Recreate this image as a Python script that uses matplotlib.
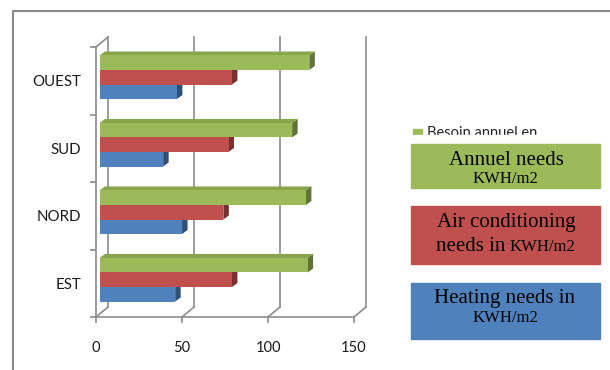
import matplotlib.pyplot as plt
from matplotlib.patches import Polygon, Rectangle
from matplotlib.lines import Line2D
from matplotlib.transforms import offset_copy
import numpy as np

# orientations and yearly needs (kWh/m2)
zones = ['EST', 'NORD', 'SUD', 'OUEST']
heating = [44, 48, 37, 45]
cooling = [77, 72, 75, 77]
annual = [121, 120, 112, 122]

x_ticks = [0, 50, 100, 150]

green = '#9BBB59'
red = '#C0504D'
blue = '#4F81BD'
grid_col = '#8C8C8C'


def shade(c, f):
    r, g, b = plt.matplotlib.colors.to_rgb(c)
    return (r * f, g * f, b * f)


W, H = 610, 370
fig = plt.figure(figsize=(W / 100, H / 100), dpi=100)
ax = fig.add_axes([96 / W, 53 / H, 258 / W, 270 / H])
ax.set_xlim(0, 150)
ax.set_ylim(-0.5, 3.5)
ax.patch.set_visible(False)

# pixel -> data factors for the pseudo 3D depth
px_x = 150 / 258
px_y = 4 / 270

font_ticks = ['Lato', 'DejaVu Sans']

# back wall: gridlines shifted back in depth
back = offset_copy(ax.transData, fig=fig, x=12, y=10, units='dots')
for xv in x_ticks:
    ax.plot([xv, xv], [-0.5, 3.5], color=grid_col, lw=1.2, transform=back,
            clip_on=False, zorder=1)
    ax.plot([xv, xv + 12 * px_x], [-0.5, -0.5 + 10 * px_y], color=grid_col,
            lw=1.2, clip_on=False, zorder=1)
ax.plot([0, 12 * px_x], [3.5, 3.5 + 10 * px_y], color=grid_col, lw=1.2,
        clip_on=False, zorder=1)

# bars with top and side faces
y = np.arange(len(zones))
h = 0.215
fx, fy = 3.5, 3.5   # front face offset (px)
dx, dy = 5.5, 4.0   # bar depth (px)
bar_tr = offset_copy(ax.transData, fig=fig, x=fx, y=fy, units='dots')
series = [(heating, blue, -h), (cooling, red, 0.0), (annual, green, h)]
for vals, col, off in series:
    for yi, v in zip(y, vals):
        yc = yi + off
        y0, y1 = yc - h / 2, yc + h / 2
        top = Polygon([(0, y1), (v, y1), (v + dx * px_x, y1 + dy * px_y),
                       (dx * px_x, y1 + dy * px_y)], closed=True,
                      facecolor=shade(col, 0.88), edgecolor='none',
                      transform=bar_tr, clip_on=False, zorder=3)
        side = Polygon([(v, y0), (v, y1), (v + dx * px_x, y1 + dy * px_y),
                        (v + dx * px_x, y0 + dy * px_y)], closed=True,
                       facecolor=shade(col, 0.62), edgecolor='none',
                       transform=bar_tr, clip_on=False, zorder=3)
        ax.add_patch(top)
        ax.add_patch(side)
    bars = ax.barh(y + off, vals, height=h, color=col, zorder=4)
    for p in bars:
        p.set_transform(bar_tr)
        p.set_clip_on(False)

# axes and ticks
for s in ['top', 'right']:
    ax.spines[s].set_visible(False)
for s in ['left', 'bottom']:
    ax.spines[s].set_color(grid_col)
    ax.spines[s].set_linewidth(1.2)
ax.set_xticks(x_ticks)
ax.set_xticklabels([str(t) for t in x_ticks], family=font_ticks, fontsize=10.5,
                   color='#1a1a1a')
ax.tick_params(axis='x', length=4, width=1.2, color=grid_col, pad=13)
ax.set_yticks(np.arange(-0.5, 4.0, 1.0))
ax.set_yticklabels([])
ax.set_yticks(y, minor=True)
ax.set_yticklabels(zones, minor=True, family=font_ticks, fontsize=10.8,
                   color='#1a1a1a')
ax.tick_params(axis='y', which='major', length=4, width=1.2, color=grid_col)
ax.tick_params(axis='y', which='minor', length=0, pad=10.5)


def fx_(px):
    return px / W


def fy_(py):
    return 1 - py / H


# outer chart frame
fig.add_artist(Line2D([fx_(13), fx_(13), fx_(612)], [fy_(372), fy_(10.5), fy_(10.5)],
                      color='#8A8A8A', lw=1.5))

# original legend entry, partly hidden
fig.add_artist(Rectangle((fx_(413), fy_(135)), 9 / W, 6 / H, color=green))
fig.text(fx_(427), fy_(137), 'Besoin annuel en', family=font_ticks,
         fontsize=10.5, color='#222222', va='baseline')
fig.add_artist(Rectangle((fx_(400), fy_(143)), 210 / W, 8 / H, color='white',
                         zorder=5))

# captions boxes
boxes = [(144, 188, green), (206, 264, red), (283, 339, blue)]
for top_px, bot_px, col in boxes:
    fig.add_artist(Rectangle((fx_(411), fy_(bot_px)), 189 / W,
                             (bot_px - top_px) / H, color=col, zorder=6))

serif = ['Liberation Serif', 'DejaVu Serif']
big, small = 15, 12
fig.text(fx_(506), fy_(165), 'Annuel needs', family=serif, fontsize=big,
         ha='center', va='baseline', zorder=7)
fig.text(fx_(505), fy_(183), 'KWH/m2', family=serif, fontsize=small,
         ha='center', va='baseline', zorder=7)
fig.text(fx_(506), fy_(227), 'Air conditioning', family=serif, fontsize=big,
         ha='center', va='baseline', zorder=7)
fig.text(fx_(436), fy_(251), 'needs in', family=serif, fontsize=big,
         ha='left', va='baseline', zorder=7)
fig.text(fx_(575), fy_(251), 'KWH/m2', family=serif, fontsize=small,
         ha='right', va='baseline', zorder=7)
fig.text(fx_(505), fy_(303), 'Heating needs in', family=serif, fontsize=big,
         ha='center', va='baseline', zorder=7)
fig.text(fx_(505), fy_(322), 'KWH/m2', family=serif, fontsize=small,
         ha='center', va='baseline', zorder=7)

fig.savefig('out.png', dpi=100)
